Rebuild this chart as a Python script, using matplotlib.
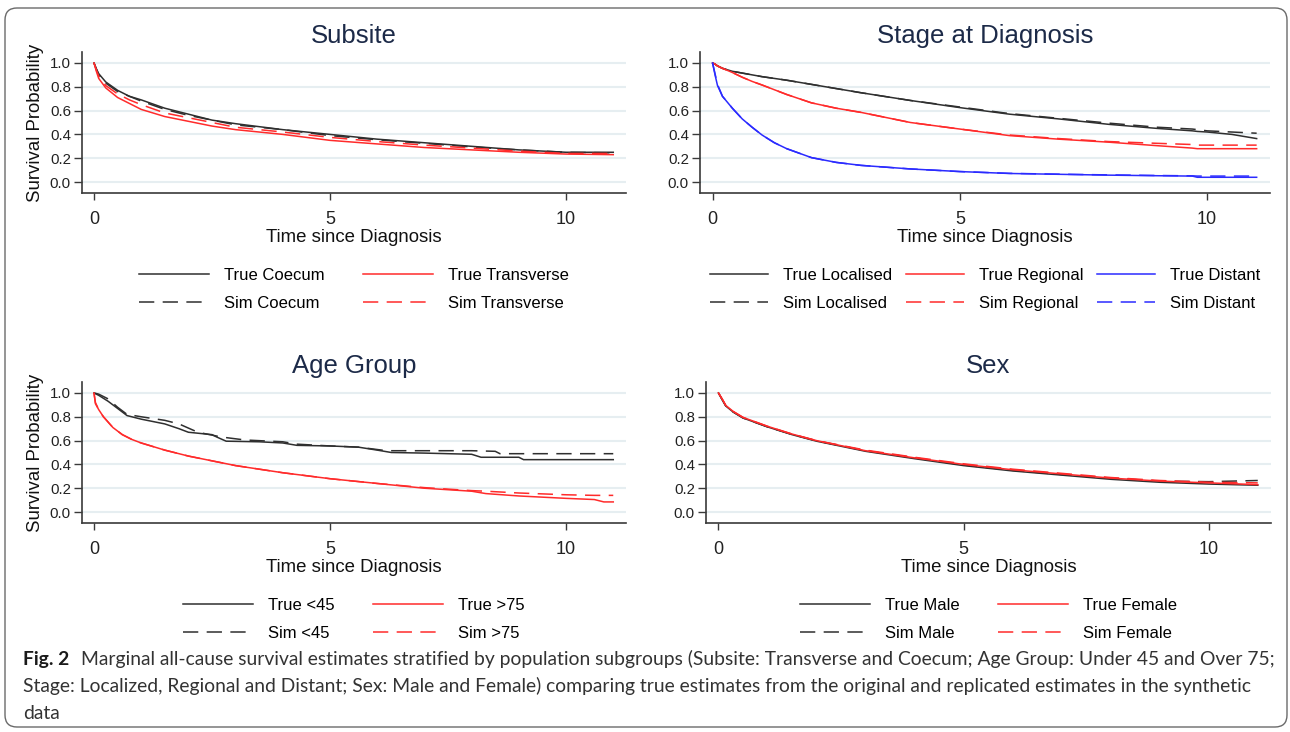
import numpy as np
import matplotlib
matplotlib.use("Agg")
from matplotlib import pyplot as plt
from matplotlib import font_manager
from matplotlib.patches import FancyBboxPatch

# Subsite
subsite_t = [0, 0.05, 0.1, 0.25, 0.5, 0.75, 1, 1.5, 2, 2.5, 3, 4, 5, 6, 7, 8, 9, 10, 11]
true_coecum = [1.0, 0.95, 0.91, 0.84, 0.77, 0.72, 0.69, 0.62, 0.57, 0.52, 0.49, 0.44,
               0.40, 0.36, 0.33, 0.30, 0.27, 0.25, 0.25]
sim_coecum = [1.0, 0.95, 0.90, 0.83, 0.76, 0.72, 0.68, 0.61, 0.56, 0.52, 0.48, 0.44,
              0.39, 0.355, 0.325, 0.295, 0.27, 0.25, 0.245]
true_transverse = [1.0, 0.93, 0.87, 0.79, 0.71, 0.66, 0.61, 0.55, 0.51, 0.47, 0.44, 0.40,
                   0.35, 0.32, 0.29, 0.27, 0.25, 0.235, 0.23]
sim_transverse = [1.0, 0.94, 0.89, 0.81, 0.74, 0.69, 0.65, 0.58, 0.54, 0.50, 0.46, 0.42,
                  0.375, 0.34, 0.31, 0.285, 0.26, 0.24, 0.24]

# Stage at diagnosis
stage_t = [0, 0.05, 0.1, 0.2, 0.4, 0.6, 0.8, 1, 1.25, 1.5, 2, 2.5, 3, 4, 5, 6, 7, 8, 9,
           9.7, 9.8, 10, 10.5, 11]
true_localised = [1.0, 0.99, 0.975, 0.955, 0.93, 0.915, 0.9, 0.885, 0.87, 0.855, 0.82,
                  0.785, 0.75, 0.685, 0.625, 0.57, 0.53, 0.485, 0.45, 0.43, 0.425, 0.42,
                  0.40, 0.365]
sim_localised = [1.0, 0.99, 0.975, 0.955, 0.93, 0.915, 0.9, 0.885, 0.87, 0.855, 0.82,
                 0.785, 0.75, 0.685, 0.63, 0.575, 0.535, 0.495, 0.46, 0.445, 0.44, 0.43,
                 0.42, 0.41]
true_regional = [1.0, 0.99, 0.975, 0.955, 0.92, 0.88, 0.845, 0.815, 0.775, 0.735, 0.665,
                 0.62, 0.585, 0.50, 0.445, 0.39, 0.36, 0.335, 0.305, 0.285, 0.28, 0.28,
                 0.28, 0.28]
sim_regional = [1.0, 0.99, 0.975, 0.955, 0.92, 0.88, 0.845, 0.815, 0.775, 0.735, 0.665,
                0.62, 0.585, 0.50, 0.445, 0.395, 0.365, 0.34, 0.325, 0.315, 0.31, 0.31,
                0.31, 0.31]
true_distant = [1.0, 0.90, 0.81, 0.72, 0.62, 0.53, 0.46, 0.395, 0.33, 0.28, 0.205, 0.165,
                0.14, 0.11, 0.088, 0.072, 0.065, 0.058, 0.053, 0.05, 0.04, 0.04, 0.04, 0.04]
sim_distant = [1.0, 0.91, 0.82, 0.72, 0.62, 0.53, 0.46, 0.395, 0.33, 0.28, 0.205, 0.165,
               0.14, 0.11, 0.088, 0.073, 0.066, 0.06, 0.055, 0.052, 0.05, 0.05, 0.05, 0.05]

# Age group
true_u45_t = [0, 0.1, 0.3, 0.5, 0.7, 1.0, 1.5, 1.8, 2.0, 2.5, 2.6, 2.8, 3.5, 4.0, 4.3,
              5.0, 5.6, 6.0, 6.3, 7.0, 8.0, 8.2, 9.0, 9.1, 11.0]
true_u45 = [1.0, 0.98, 0.93, 0.87, 0.81, 0.78, 0.74, 0.70, 0.67, 0.65, 0.63, 0.595, 0.59,
            0.58, 0.56, 0.555, 0.545, 0.52, 0.50, 0.495, 0.485, 0.46, 0.46, 0.44, 0.44]
sim_u45_t = [0, 0.1, 0.3, 0.5, 0.7, 1.0, 1.5, 1.8, 2.2, 2.7, 3.2, 4.0, 4.3, 5.0, 5.6, 6.2,
             7.0, 8.0, 8.5, 8.6, 11.0]
sim_u45 = [1.0, 0.99, 0.95, 0.88, 0.82, 0.80, 0.77, 0.74, 0.67, 0.63, 0.605, 0.59, 0.57,
           0.555, 0.545, 0.515, 0.515, 0.515, 0.51, 0.49, 0.49]
o75_t = [0, 0.03, 0.1, 0.2, 0.4, 0.6, 0.8, 1, 1.5, 2, 2.5, 3, 4, 5, 6, 7, 8, 8.3, 9, 10,
         10.6, 10.8, 11]
true_o75 = [1.0, 0.91, 0.86, 0.80, 0.71, 0.65, 0.61, 0.58, 0.52, 0.47, 0.43, 0.39, 0.33,
            0.28, 0.24, 0.20, 0.175, 0.155, 0.135, 0.115, 0.105, 0.085, 0.085]
sim_o75 = [1.0, 0.92, 0.86, 0.80, 0.71, 0.65, 0.61, 0.58, 0.52, 0.47, 0.43, 0.39, 0.33,
           0.28, 0.24, 0.205, 0.18, 0.175, 0.16, 0.145, 0.14, 0.14, 0.14]

# Sex
sex_t = [0, 0.075, 0.15, 0.3, 0.5, 1, 1.5, 2, 3, 4, 5, 6, 7, 8, 9, 10, 11]
true_male = [1.0, 0.944, 0.89, 0.84, 0.79, 0.715, 0.65, 0.595, 0.51, 0.448, 0.39, 0.345,
             0.31, 0.275, 0.25, 0.235, 0.225]
sim_male = [1.0, 0.945, 0.89, 0.84, 0.79, 0.715, 0.652, 0.598, 0.515, 0.455, 0.395, 0.35,
            0.315, 0.285, 0.26, 0.255, 0.265]
true_female = [1.0, 0.95, 0.895, 0.845, 0.795, 0.72, 0.655, 0.60, 0.515, 0.455, 0.40,
               0.355, 0.32, 0.285, 0.26, 0.245, 0.23]
sim_female = [1.0, 0.95, 0.895, 0.845, 0.795, 0.72, 0.655, 0.60, 0.52, 0.46, 0.405, 0.36,
              0.325, 0.29, 0.265, 0.25, 0.245]

y_ticks = [0.0, 0.2, 0.4, 0.6, 0.8, 1.0]
x_ticks = [0, 5, 10]

caption_bold = "Fig. 2"
caption_lines = [
    "Marginal all-cause survival estimates stratified by population subgroups (Subsite: "
    "Transverse and Coecum; Age Group: Under 45 and Over 75;",
    "Stage: Localized, Regional and Distant; Sex: Male and Female) comparing true estimates "
    "from the original and replicated estimates in the synthetic",
    "data",
]

W, H = 1290, 732
BLACK = "#2f2f2f"
RED = "#ff2b2b"
BLUE = "#2b2bff"
DASH = (10, 5.5)


def px_rect(x0, y0, x1, y1):
    """Axes rectangle in figure fractions from pixel edges (y measured from top)."""
    return [x0 / W, 1 - y1 / H, (x1 - x0) / W, (y1 - y0) / H]


def pick_font(names):
    installed = {f.name for f in font_manager.fontManager.ttflist}
    for n in names:
        if n in installed:
            return n
    return "DejaVu Sans"


def draw_panel(ax, title, series, ylabel=True, colspace=2.3, handlelen=4.2):
    for t, s, label, color, dashed in series:
        ls = (0, DASH) if dashed else "-"
        ax.plot(t, s, color=color, lw=1.1, ls=ls, label=label,
                solid_joinstyle="miter")

    ax.set_xlim(-0.254, 11.27)
    ax.set_ylim(-0.092, 1.092)
    ax.set_xticks(x_ticks)
    ax.set_yticks(y_ticks)
    ax.set_yticklabels(["{:.1f}".format(v) for v in y_ticks])
    for side in ["top", "right"]:
        ax.spines[side].set_visible(False)
    for side in ["left", "bottom"]:
        ax.spines[side].set_color("#3a3a3a")
        ax.spines[side].set_linewidth(1.2)
    ax.yaxis.grid(True, color="#e6eef1", lw=1.5)
    ax.set_axisbelow(True)
    ax.tick_params(axis="y", length=6, width=1, color="#3a3a3a", pad=2,
                   labelsize=10.8, labelcolor="#222222")
    ax.tick_params(axis="x", length=5, width=1, color="#3a3a3a", pad=8,
                   labelsize=13, labelcolor="#222222")
    ax.set_xlabel("Time since Diagnosis", fontsize=13.4, color="#111111", labelpad=0.5)
    if ylabel:
        ax.set_ylabel("Survival Probability", fontsize=13.4, color="#111111", labelpad=4)
    ax.set_title(title, fontsize=18.5, color="#1c2a48", pad=6.3)

    ax.legend(loc="upper center", bbox_to_anchor=(0.5, -0.53), ncol=len(series) // 2,
              frameon=False, fontsize=12, handlelength=handlelen, handletextpad=0.9,
              columnspacing=colspace, labelspacing=0.78, borderpad=0, borderaxespad=0)


def main():
    plt.rcParams["font.family"] = ["Liberation Sans", "DejaVu Sans"]
    fig = plt.figure(figsize=(W / 100, H / 100), dpi=100)

    # Background layer in pixel units: frame and caption
    #--------------------------------------------------------------------------
    bg = fig.add_axes([0, 0, 1, 1])
    bg.set_xlim(0, W)
    bg.set_ylim(H, 0)
    bg.axis("off")
    bg.add_patch(FancyBboxPatch((5, 8), 1282, 719,
                                boxstyle="round,pad=0,rounding_size=12",
                                fc="none", ec="#6a6a6a", lw=1.0))
    #--------------------------------------------------------------------------

    # Panels
    #--------------------------------------------------------------------------
    ax1 = fig.add_axes(px_rect(82, 52, 626, 193))
    draw_panel(ax1, "Subsite", [
        (subsite_t, true_coecum, "True Coecum", BLACK, False),
        (subsite_t, sim_coecum, "Sim Coecum", BLACK, True),
        (subsite_t, true_transverse, "True Transverse", RED, False),
        (subsite_t, sim_transverse, "Sim Transverse", RED, True),
    ])

    ax2 = fig.add_axes(px_rect(700, 52, 1270, 193))
    draw_panel(ax2, "Stage at Diagnosis", [
        (stage_t, true_localised, "True Localised", BLACK, False),
        (stage_t, sim_localised, "Sim Localised", BLACK, True),
        (stage_t, true_regional, "True Regional", RED, False),
        (stage_t, sim_regional, "Sim Regional", RED, True),
        (stage_t, true_distant, "True Distant", BLUE, False),
        (stage_t, sim_distant, "Sim Distant", BLUE, True),
    ], ylabel=False, colspace=0.8, handlelen=3.5)

    ax3 = fig.add_axes(px_rect(82, 382, 626, 523))
    draw_panel(ax3, "Age Group", [
        (true_u45_t, true_u45, "True <45", BLACK, False),
        (sim_u45_t, sim_u45, "Sim <45", BLACK, True),
        (o75_t, true_o75, "True >75", RED, False),
        (o75_t, sim_o75, "Sim >75", RED, True),
    ])

    ax4 = fig.add_axes(px_rect(706, 382, 1271, 523))
    draw_panel(ax4, "Sex", [
        (sex_t, true_male, "True Male", BLACK, False),
        (sex_t, sim_male, "Sim Male", BLACK, True),
        (sex_t, true_female, "True Female", RED, False),
        (sex_t, sim_female, "Sim Female", RED, True),
    ], ylabel=False)
    #--------------------------------------------------------------------------

    # Caption, sized so the first line fills the frame width
    #--------------------------------------------------------------------------
    cap_font = pick_font(["Lato", "Liberation Sans"])
    x0, right_edge = 23, 1277
    baselines = [665, 692, 719]
    size = 10.0
    bold = bg.text(x0, baselines[0], caption_bold, fontsize=size, fontweight="bold",
                   family=cap_font, color="#1a1a1a", va="baseline")
    first = bg.text(x0, baselines[0], caption_lines[0], fontsize=size,
                    family=cap_font, color="#333333", va="baseline")
    fig.canvas.draw()
    r = fig.canvas.get_renderer()
    gap = 0.6
    total = (bold.get_window_extent(r).width + first.get_window_extent(r).width
             + gap * size * 100 / 72)
    size = size * (right_edge - x0) / total
    bold.set_fontsize(size)
    first.set_fontsize(size)
    fig.canvas.draw()
    bold_w = bold.get_window_extent(r).width
    first.set_x(x0 + bold_w + gap * size * 100 / 72)
    for line, yb in zip(caption_lines[1:], baselines[1:]):
        bg.text(x0, yb, line, fontsize=size, family=cap_font, color="#333333",
                va="baseline")
    #--------------------------------------------------------------------------

    fig.savefig("out.png", dpi=100)


if __name__ == "__main__":
    main()
